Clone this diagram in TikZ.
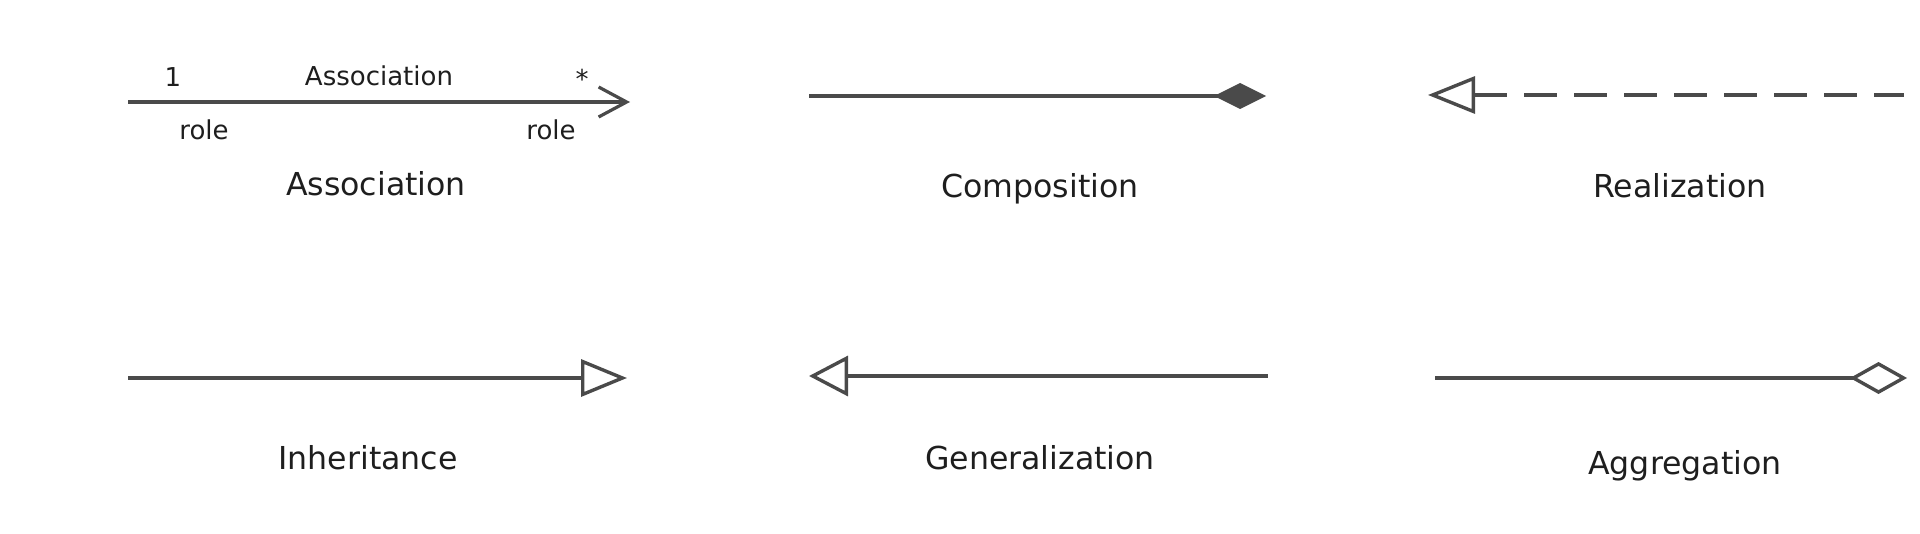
\documentclass[tikz,border=0pt]{standalone}
\usepackage{fontspec}
\setmainfont{DejaVu Sans}
\usepackage{xcolor}
\usetikzlibrary{
    arrows.meta,
    positioning
}
\definecolor{lnc}{HTML}{4A4A4A}
\definecolor{txc}{HTML}{1E1E1E}

\begin{document}
\begin{tikzpicture}[x=0.5pt, y=-0.5pt,
    conn/.style={draw=lnc, line width=1.7pt},
    caption/.style={anchor=base, inner sep=0pt, text=txc, font=\fontsize{15.8}{19}\selectfont},
    lbl/.style={anchor=base, inner sep=0pt, text=txc, font=\fontsize{13}{16}\selectfont},
    assoc/.style={-{Straight Barb[length=14pt, width=15pt, line width=1.6pt]}},
    compo/.style={-{Diamond[length=26pt, width=13pt, fill=lnc]}},
    realz/.style={{Triangle[open, length=23.5pt, width=18.5pt, fill=white]}-, dash pattern=on 16.5pt off 8.5pt},
    inher/.style={-{Triangle[open, length=23pt, width=18.5pt, fill=white]}},
    gener/.style={{Triangle[open, length=19.5pt, width=20pt, fill=white]}-},
    aggr/.style={-{Diamond[open, length=28.5pt, width=16pt, fill=white]}}]
                    \useasboundingbox (0,0) rectangle (1920,534);

                    \coordinate (as1) at (128, 102);
                    \coordinate (as2) at (630, 102);
                    \coordinate (co1) at (809, 96);
                    \coordinate (co2) at (1266, 96);
                    \coordinate (re1) at (1428, 95);
                    \coordinate (re2) at (1904, 95);
                    \coordinate (in1) at (128, 378);
                    \coordinate (in2) at (627, 378);
                    \coordinate (ge1) at (809, 376);
                    \coordinate (ge2) at (1268, 376);
                    \coordinate (ag1) at (1435, 378);
                    \coordinate (ag2) at (1907, 378);

                    \node[lbl] (one) at (173, 87) {1};
                    \node[lbl] (asname) at (379, 86) {Association};
                    \node[lbl] (many) at (582, 89) {*};
                    \node[lbl] (role1) at (204, 140) {role};
                    \node[lbl] (role2) at (551, 140) {role};

                    \node[caption] (cas) at (376, 196) {Association};
                    \node[caption] (cco) at (1040, 198) {Composition};
                    \node[caption] (cre) at (1680, 198) {Realization};
                    \node[caption] (cin) at (368, 469) {Inheritance};
                    \node[caption] (cge) at (1040, 469) {Generalization};
                    \node[caption] (cag) at (1685, 474) {Aggregation};

                    \draw[conn]
                    (as1) edge[assoc] (as2)
                    (co1) edge[compo] (co2)
                    (re1) edge[realz] (re2)
                    (in1) edge[inher] (in2)
                    (ge1) edge[gener] (ge2)
                    (ag1) edge[aggr] (ag2);
                \end{tikzpicture}
\end{document}
